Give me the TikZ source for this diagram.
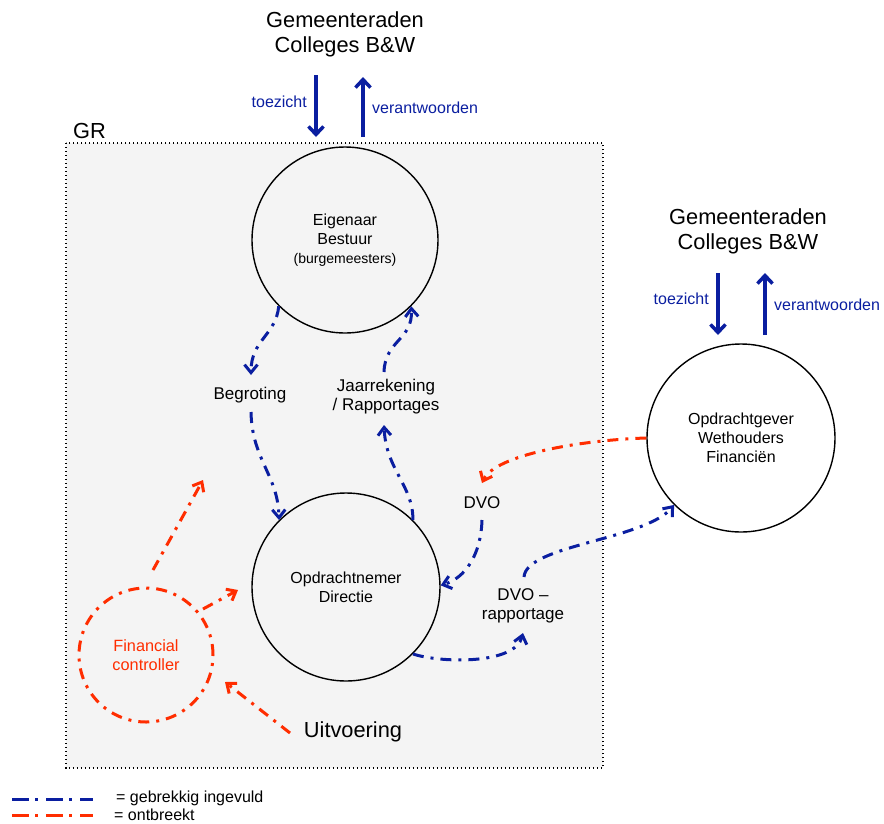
\documentclass[tikz,border=0pt]{standalone}
\usepackage{fontspec}
\setmainfont{Liberation Sans}
\usetikzlibrary{arrows.meta}
\definecolor{dblue}{RGB}{10,30,160}
\definecolor{ored}{RGB}{255,45,0}
\definecolor{grbg}{RGB}{244,244,244}
\begin{document}
\begin{tikzpicture}[x=1pt,y=-1pt,
  txt/.style={font=\fontsize{16}{19}\selectfont, align=center, inner sep=0pt},
  labtxt/.style={font=\fontsize{17}{19}\selectfont, align=center, inner sep=0pt},
  bigtxt/.style={font=\fontsize{21.8}{25}\selectfont, align=center, inner sep=0pt},
  circ/.style={draw=black, line width=1.4pt, circle, minimum size=188pt, inner sep=0pt,
    font=\fontsize{16}{19}\selectfont, align=center},
  bl/.style={draw=dblue, line width=3pt, dash pattern=on 11pt off 7pt on 3pt off 7pt,
    -{Straight Barb[length=8pt,width=13pt]}},
  rd/.style={draw=ored, line width=3pt, dash pattern=on 11pt off 7pt on 3pt off 7pt,
    -{Straight Barb[length=8pt,width=13pt]}},
  solidarr/.style={draw=dblue, line width=3.5pt, -{Straight Barb[length=8pt,width=15pt]}},
  lbl/.style={text=dblue, font=\fontsize{16}{19}\selectfont, inner sep=0pt}]
\useasboundingbox (0,0) rectangle (884,823);

% GR box
\draw[fill=grbg, line width=1.3pt, dash pattern=on 1.3pt off 2.7pt] (66,143) rectangle (603,768);
\node[bigtxt, anchor=base west] (gr) at (73,138) {GR};

% top group
\node[bigtxt] (gem1) at (345,34) {Gemeenteraden\\Colleges B\&W};
\coordinate (t1a) at (316,75); \coordinate (t1b) at (316,137);
\coordinate (v1a) at (363,137); \coordinate (v1b) at (363,77);
\draw[solidarr] (t1a) -- (t1b);
\draw[solidarr] (v1a) -- (v1b);
\node[lbl, anchor=east] (tz1) at (307,102) {toezicht};
\node[lbl, anchor=west] (vw1) at (372,108) {verantwoorden};

% right group
\node[bigtxt] (gem2) at (748,231) {Gemeenteraden\\Colleges B\&W};
\coordinate (t2a) at (718,273); \coordinate (t2b) at (718,335);
\coordinate (v2a) at (765,335); \coordinate (v2b) at (765,273);
\draw[solidarr] (t2a) -- (t2b);
\draw[solidarr] (v2a) -- (v2b);
\node[lbl, anchor=east] (tz2) at (709,299) {toezicht};
\node[lbl, anchor=west] (vw2) at (774,305) {verantwoorden};

% circles
\node[circ, minimum size=186pt] (eig) at (345,240) {Eigenaar\\Bestuur\\{\fontsize{14}{19}\selectfont (burgemeesters)}};
\node[circ] (dir) at (346,587) {Opdrachtnemer\\Directie};
\node[circ, fill=white] (opg) at (741,438) {Opdrachtgever\\Wethouders\\Financiën};

% labels
\node[labtxt] (beg) at (250,395) {Begroting};
\node[labtxt] (jaar) at (386,397) {Jaarrekening\\/ Rapportages};
\node[labtxt] (dvo) at (482,503) {DVO};
\node[labtxt] (dvor) at (523,606) {DVO –\\rapportage};
\node[bigtxt] (uit) at (353,732) {Uitvoering};

% free ends
\coordinate (begtip) at (251,375);
\coordinate (begst) at (251,412);
\coordinate (jaartip) at (384,425);
\coordinate (jaarst) at (384,372);
\coordinate (dvotip) at (482,483);
\coordinate (dvost) at (482,520);
\coordinate (rapst) at (524,577);
\coordinate (raptip) at (523,633);

% blue dash-dot connectors
\draw[bl] (eig.225) .. controls (276,335) and (251,340) .. (begtip);
\draw[bl] (begst) .. controls (252,460) and (278,475) .. (dir.135);
\draw[bl] (dir.45) .. controls (413,485) and (386,470) .. (jaartip);
\draw[bl] (jaarst) .. controls (385,340) and (413,340) .. (eig.315);
\draw[rd] (opg.180) .. controls (580,440) and (495,455) .. (dvotip);
\draw[bl] (dvost) .. controls (481,555) and (465,578) .. (dir.1);
\draw[bl] (rapst) .. controls (526,545) and (645,540) .. (opg.225);
\draw[bl] (dir.315) .. controls (440,663) and (515,665) .. (raptip);

% financial controller
\node[circle, draw=ored, line width=3pt, dash pattern=on 11pt off 7pt on 3pt off 7pt,
  minimum size=134pt, inner sep=0pt, text=ored, font=\fontsize{16.3}{19}\selectfont, align=center]
  (fc) at (146,655) {Financial\\controller};
\coordinate (fc1a) at (153,570); \coordinate (fc1b) at (203,480);
\coordinate (fc2a) at (203,609); \coordinate (fc2b) at (238,590);
\coordinate (fc3a) at (290,733); \coordinate (fc3b) at (225,682);
\draw[rd] (fc1a) -- (fc1b);
\draw[rd] (fc2a) -- (fc2b);
\draw[rd] (fc3a) -- (fc3b);

% legend
\coordinate (lb1) at (12,799); \coordinate (lb2) at (93,799);
\coordinate (lr1) at (12,815); \coordinate (lr2) at (93,815);
\draw[draw=dblue, line width=3pt, dash pattern=on 17pt off 6pt on 3pt off 8pt] (lb1) -- (lb2);
\draw[draw=ored, line width=3pt, dash pattern=on 17pt off 6pt on 3pt off 8pt] (lr1) -- (lr2);
\node[txt, anchor=west] (leg1) at (116,798) {= gebrekkig ingevuld};
\node[txt, anchor=west] (leg2) at (114,815) {= ontbreekt};
\end{tikzpicture}
\end{document}
